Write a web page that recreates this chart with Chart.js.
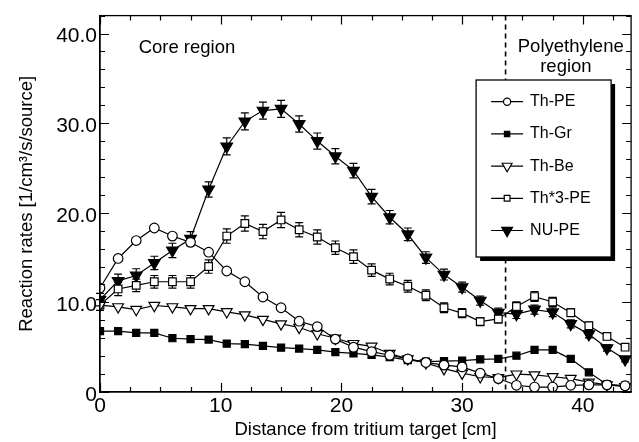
<!DOCTYPE html>
<html>
<head>
<meta charset="utf-8">
<script src="https://cdn.jsdelivr.net/npm/chart.js@4.4.1/dist/chart.umd.min.js"></script>
<style>
  body { margin: 0; background: #fff; }
  #wrap { width: 639px; height: 442px; }
</style>
</head>
<body>
<div id="wrap"><canvas id="chart" width="639" height="442"></canvas></div>
<script>
// distance from tritium target [cm]
const distance = [0, 1.5, 3, 4.5, 6, 7.5, 9, 10.5, 12, 13.5, 15, 16.5, 18, 19.5, 21,
                  22.5, 24, 25.5, 27, 28.5, 30, 31.5, 33, 34.5, 36, 37.5, 39, 40.5, 42, 43.5];

// reaction rates [1/cm3/s/source]
const thPE  = [11.6, 14.9, 16.9, 18.3, 17.4, 16.7, 15.6, 13.5, 12.3, 10.6, 9.4, 7.9, 7.3, 5.9, 5.0,
               4.5, 4.1, 3.7, 3.3, 3.0, 2.8, 2.1, 1.5, 0.75, 0.55, 0.55, 0.75, 0.8, 0.8, 0.7];
const thGr  = [6.8, 6.8, 6.6, 6.6, 6.0, 5.9, 5.85, 5.4, 5.35, 5.15, 4.95, 4.85, 4.7, 4.45, 4.3,
               4.15, 3.9, 3.55, 3.4, 3.45, 3.5, 3.65, 3.7, 4.05, 4.7, 4.7, 3.7, 2.2, 0.85, 0.7];
const thBe  = [9.7, 9.5, 9.2, 9.65, 9.5, 9.3, 9.3, 8.95, 8.6, 8.1, 7.6, 7.2, 6.5, 6.0, 5.4,
               5.1, 4.3, 3.7, 3.25, 2.6, 2.1, 1.7, 1.6, 2.0, 1.9, 1.7, 1.5, 1.1, 0.8, 0.6];
const th3PE = [9.7, 11.5, 11.9, 12.3, 12.3, 12.3, 14.0, 17.4, 18.8, 17.9, 19.2, 18.1, 17.3, 16.1, 15.1,
               13.6, 12.6, 11.8, 10.8, 9.4, 8.8, 7.85, 8.15, 9.55, 10.65, 10.05, 8.85, 7.4, 6.2, 5.0];
const nuPE  = [10.3, 12.4, 13.0, 14.4, 15.8, 17.1, 22.6, 27.4, 30.2, 31.4, 31.6, 29.9, 28.0, 26.3, 24.7,
               21.8, 19.5, 17.6, 15.0, 13.1, 11.7, 10.2, 8.85, 8.7, 9.2, 8.9, 7.6, 6.45, 4.9, 3.65];

// error bars
const th3Err = [0.6, 0.75, 0.7, 0.7, 0.7, 0.7, 0.75, 0.8, 0.85, 0.8, 0.85, 0.8, 0.8, 0.75, 0.75,
                0.7, 0.65, 0.65, 0.6, 0.55, 0.5, 0.45, 0.45, 0.5, 0.55, 0.5, 0.45, 0.4, 0.35, 0.3];
const nuErr  = [0.7, 0.75, 0.75, 0.75, 0.8, 0.8, 0.85, 0.95, 0.95, 0.95, 0.95, 0.9, 0.9, 0.85, 0.8,
                0.8, 0.75, 0.7, 0.65, 0.6, 0.55, 0.5, 0.5, 0.5, 0.5, 0.5, 0.45, 0.4, 0.35, 0.3];

const xTicks = [0, 10, 20, 30, 40];
const xTickLabels = ['0', '10', '20', '30', '40'];
const yTicks = [0, 10, 20, 30, 40];
const yTickLabels = ['0', '10.0', '20.0', '30.0', '40.0'];
const regionBoundary = 33.6;

const FONT = "'Liberation Sans', Arial, sans-serif";

function pts(vals) {
    return distance.map((x, i) => ({ x: x, y: vals[i] }));
}

function marker(ctx, style, x, y, r, fill) {
    ctx.beginPath();
    if (style === 'circle') {
        ctx.arc(x, y, r, 0, Math.PI * 2);
    } else if (style === 'rect') {
        const s = r * Math.SQRT1_2;
        ctx.rect(x - s, y - s, 2 * s, 2 * s);
    } else {
        for (let k = 0; k < 3; k++) {
            const a = Math.PI + k * 2 * Math.PI / 3;
            const px = x + Math.sin(a) * r, py = y - Math.cos(a) * r;
            if (k) ctx.lineTo(px, py); else ctx.moveTo(px, py);
        }
        ctx.closePath();
    }
    ctx.fillStyle = fill;
    ctx.fill();
    ctx.strokeStyle = '#000';
    ctx.lineWidth = 1.2;
    ctx.stroke();
}

function series(label, vals, style, r, fill, errs) {
    return {
        label: label,
        data: pts(vals),
        errors: errs,
        borderColor: '#000',
        borderWidth: 1.2,
        pointStyle: style,
        pointRotation: style === 'triangle' ? 180 : 0,
        pointRadius: r,
        pointBackgroundColor: fill,
        pointBorderColor: '#000',
        pointBorderWidth: 1.2,
        legendRadius: style === 'triangle' ? r - 0.5 : r * 0.75,
        tension: 0
    };
}

const framePlugin = {
    id: 'frame',
    beforeDatasetsDraw(chart) {
        const { ctx, chartArea: a, scales: { x, y } } = chart;
        ctx.save();
        // region boundary
        ctx.strokeStyle = '#000';
        ctx.lineWidth = 1.6;
        ctx.setLineDash([5, 4]);
        const bx = x.getPixelForValue(regionBoundary);
        ctx.beginPath();
        ctx.moveTo(bx, a.top);
        ctx.lineTo(bx, a.bottom);
        ctx.stroke();
        ctx.setLineDash([]);
        // error bars
        ctx.lineWidth = 1.2;
        chart.data.datasets.forEach(ds => {
            if (!ds.errors) return;
            ds.data.forEach((p, i) => {
                const px = x.getPixelForValue(p.x);
                const y1 = y.getPixelForValue(p.y + ds.errors[i]);
                const y2 = y.getPixelForValue(p.y - ds.errors[i]);
                ctx.beginPath();
                ctx.moveTo(px, y1); ctx.lineTo(px, y2);
                ctx.moveTo(px - 4, y1); ctx.lineTo(px + 4, y1);
                ctx.moveTo(px - 4, y2); ctx.lineTo(px + 4, y2);
                ctx.stroke();
            });
        });
        ctx.restore();
    },
    afterDatasetsDraw(chart) {
        const { ctx, chartArea: a, scales: { x, y } } = chart;
        ctx.save();
        ctx.strokeStyle = '#000';
        ctx.lineWidth = 1.3;
        ctx.strokeRect(a.left, a.top, a.right - a.left, a.bottom - a.top);

        // inward ticks on all four sides
        ctx.lineWidth = 1.2;
        ctx.beginPath();
        for (let v = 0; v <= 44; v += 2.5) {
            const len = v % 10 === 0 ? 9 : 5;
            const px = Math.round(x.getPixelForValue(v)) + 0.5;
            ctx.moveTo(px, a.bottom); ctx.lineTo(px, a.bottom - len);
            ctx.moveTo(px, a.top); ctx.lineTo(px, a.top + len);
        }
        for (let v = 0; v <= 42; v += 2) {
            const len = v % 10 === 0 ? 9 : 5;
            const py = Math.round(y.getPixelForValue(v)) + 0.5;
            ctx.moveTo(a.left, py); ctx.lineTo(a.left + len, py);
            ctx.moveTo(a.right, py); ctx.lineTo(a.right - len, py);
        }
        ctx.stroke();

        // region labels
        ctx.fillStyle = '#000';
        ctx.font = '18.5px ' + FONT;
        ctx.textBaseline = 'middle';
        ctx.textAlign = 'left';
        ctx.fillText('Core region', x.getPixelForValue(3.2), y.getPixelForValue(38.4));
        ctx.textAlign = 'center';
        ctx.fillText('Polyethylene', x.getPixelForValue(39.0), y.getPixelForValue(38.5));
        ctx.fillText('region', x.getPixelForValue(38.6), y.getPixelForValue(36.3));

        // legend box with shadow
        const lx = a.right - 155, ly = 80, lw = 135, lh = 177;
        ctx.fillStyle = '#000';
        ctx.fillRect(lx + 4, ly + 4, lw, lh);
        ctx.fillStyle = '#fff';
        ctx.fillRect(lx, ly, lw, lh);
        ctx.lineWidth = 1.3;
        ctx.strokeRect(lx, ly, lw, lh);
        ctx.font = '16px ' + FONT;
        ctx.textAlign = 'left';
        chart.data.datasets.forEach((ds, i) => {
            const ry = ly + 21.7 + i * 32.2;
            ctx.strokeStyle = '#000';
            ctx.lineWidth = 1.2;
            ctx.beginPath();
            ctx.moveTo(lx + 15, ry); ctx.lineTo(lx + 47, ry);
            ctx.stroke();
            marker(ctx, ds.pointStyle, lx + 31, ry, ds.legendRadius, ds.pointBackgroundColor);
            ctx.fillStyle = '#000';
            ctx.fillText(ds.label, lx + 54, ry);
        });
        ctx.restore();
    }
};

new Chart(document.getElementById('chart').getContext('2d'), {
    type: 'line',
    data: {
        datasets: [
            series('Th-PE', thPE, 'circle', 4.8, '#fff'),
            series('Th-Gr', thGr, 'rect', 5, '#000'),
            series('Th-Be', thBe, 'triangle', 6.2, '#fff'),
            series('Th*3-PE', th3PE, 'rect', 5.4, '#fff', th3Err),
            series('NU-PE', nuPE, 'triangle', 6.7, '#000', nuErr)
        ]
    },
    options: {
        responsive: false,
        animation: false,
        layout: { padding: { top: 13, right: 7, left: 0, bottom: 0 } },
        plugins: {
            legend: { display: false },
            tooltip: { enabled: false }
        },
        scales: {
            x: {
                type: 'linear',
                min: 0,
                max: 44,
                afterFit: s => { s.height = 50; },
                afterBuildTicks: s => { s.ticks = xTicks.map(v => ({ value: v })); },
                grid: { display: false, drawTicks: false },
                border: { display: true, color: '#000', width: 1.3 },
                ticks: {
                    color: '#000',
                    padding: 2,
                    maxRotation: 0,
                    font: { family: FONT, size: 21 },
                    callback: v => xTickLabels[xTicks.indexOf(v)]
                },
                title: {
                    display: true,
                    text: 'Distance from tritium target [cm]',
                    color: '#000',
                    padding: { top: 0, bottom: 1 },
                    font: { family: FONT, size: 18.5 }
                }
            },
            y: {
                min: 0,
                max: 42,
                afterFit: s => { s.width = 100; },
                afterBuildTicks: s => { s.ticks = yTicks.map(v => ({ value: v })); },
                grid: { display: false, drawTicks: false },
                border: { display: true, color: '#000', width: 1.3 },
                ticks: {
                    color: '#000',
                    padding: 3,
                    labelOffset: 3,
                    font: { family: FONT, size: 21 },
                    callback: v => yTickLabels[yTicks.indexOf(v)]
                },
                title: {
                    display: true,
                    text: 'Reaction rates [1/cm³/s/source]',
                    color: '#000',
                    padding: { top: 16, bottom: 0 },
                    font: { family: FONT, size: 18.5 }
                }
            }
        }
    },
    plugins: [framePlugin]
});
</script>
</body>
</html>
